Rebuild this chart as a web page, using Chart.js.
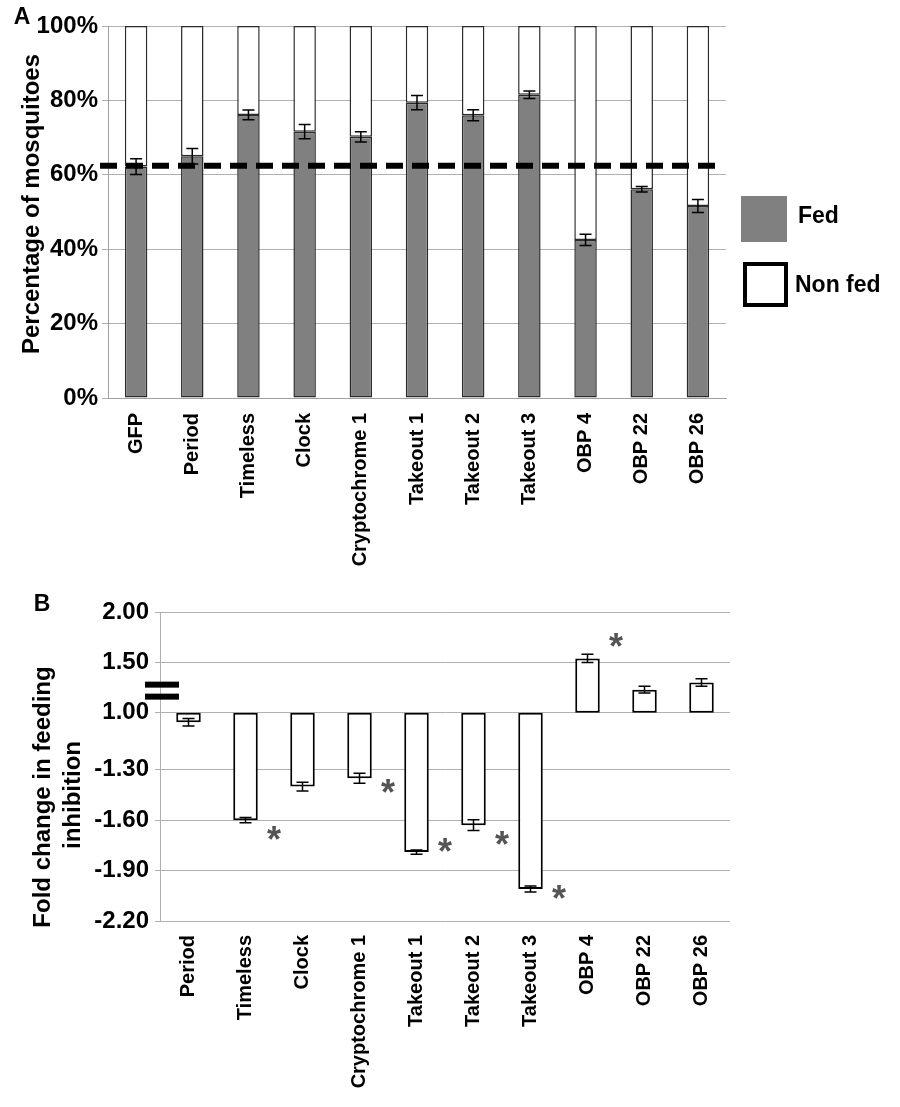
<!DOCTYPE html>
<html>
<head>
<meta charset="utf-8">
<script src="https://cdn.jsdelivr.net/npm/chart.js@4.4.0/dist/chart.umd.min.js"></script>
<style>
  body { margin: 0; background: #fff; }
  #wrapA { position: absolute; left: 0; top: 0; width: 900px; height: 580px; }
  #wrapB { position: absolute; left: 0; top: 580px; width: 900px; height: 527px; }
</style>
</head>
<body>
<div id="wrapA"><canvas id="chartA"></canvas></div>
<div id="wrapB"><canvas id="chartB"></canvas></div>
<script>
// ================= DATA: PANEL A =================
const genesA = ["GFP", "Period", "Timeless", "Clock", "Cryptochrome 1", "Takeout 1",
                "Takeout 2", "Takeout 3", "OBP 4", "OBP 22", "OBP 26"];
const fedPct    = [62.2, 65.0, 76.1, 71.6, 70.2, 79.4, 76.0, 81.5, 42.5, 56.1, 51.6];
const nonFedPct = [37.8, 35.0, 23.9, 28.4, 29.8, 20.6, 24.0, 18.5, 57.5, 43.9, 48.4];
const fedErr    = [2.1, 2.1, 1.3, 1.9, 1.4, 1.9, 1.5, 1.0, 1.5, 0.75, 1.75];
const gfpLevel  = 62.4;
const ticksA    = [0, 20, 40, 60, 80, 100];

// ================= DATA: PANEL B =================
const genesB = ["Period", "Timeless", "Clock", "Cryptochrome 1", "Takeout 1",
                "Takeout 2", "Takeout 3", "OBP 4", "OBP 22", "OBP 26"];
const foldChange = [-1.05, -1.60, -1.40, -1.35, -1.79, -1.63, -2.01, 1.54, 1.23, 1.30];
const foldErr    = [0.02, 0.016, 0.026, 0.03, 0.012, 0.032, 0.018, 0.04, 0.033, 0.037];
const starGenes  = ["Timeless", "Cryptochrome 1", "Takeout 1", "Takeout 2", "Takeout 3", "OBP 4"];
const starLevel  = [-1.70, -1.42, -1.77, -1.73, -2.05, 1.68];
const foldTicks  = [2.00, 1.50, 1.00, -1.30, -1.60, -1.90, -2.20];
const breakLevel = 1.22;

// broken axis: slot of each fold tick on the linear scale (gap between 1.00 and -1.30 is a bit wider)
const tickSlots = [6.13, 5.13, 4.13, 3, 2, 1, 0];

const FONT = '"Liberation Sans", Arial, sans-serif';
Chart.defaults.font.family = FONT;
Chart.defaults.color = '#000';

// -1.00 and 1.00 are the same point on a fold-change axis
function foldToSlot(f) {
    const g = f >= 1 ? f : f + 2;
    const gt = foldTicks.map(t => t >= 1 ? t : t + 2);
    for (let i = 0; i < gt.length - 1; i++) {
        if (g <= gt[i] && g >= gt[i + 1]) {
            return tickSlots[i + 1] + (g - gt[i + 1]) / (gt[i] - gt[i + 1]) * (tickSlots[i] - tickSlots[i + 1]);
        }
    }
    return g > gt[0] ? tickSlots[0] : tickSlots[tickSlots.length - 1];
}

function drawErr(ctx, x, top, bot, cap) {
    ctx.beginPath();
    ctx.moveTo(x, top); ctx.lineTo(x, bot);
    ctx.moveTo(x - cap, top); ctx.lineTo(x + cap, top);
    ctx.moveTo(x - cap, bot); ctx.lineTo(x + cap, bot);
    ctx.stroke();
}

// ================= PANEL A EXTRAS =================
const panelAExtras = {
    id: 'panelAExtras',
    afterDatasetsDraw(chart) {
        const ctx = chart.ctx;
        const y = chart.scales.y;
        ctx.save();
        ctx.strokeStyle = '#000';
        ctx.lineWidth = 1.5;
        chart.getDatasetMeta(0).data.forEach((bar, i) => {
            drawErr(ctx, bar.x,
                y.getPixelForValue(fedPct[i] + fedErr[i]),
                y.getPixelForValue(fedPct[i] - fedErr[i]), 6);
        });

        // GFP reference level
        const yl = y.getPixelForValue(gfpLevel);
        ctx.setLineDash([17, 9]);
        ctx.lineWidth = 6;
        ctx.beginPath();
        ctx.moveTo(100, yl);
        ctx.lineTo(722, yl);
        ctx.stroke();
        ctx.restore();
    },
    afterDraw(chart) {
        const ctx = chart.ctx;
        ctx.save();
        ctx.fillStyle = '#000';
        ctx.textAlign = 'center';
        ctx.textBaseline = 'middle';
        ctx.font = 'bold 23px ' + FONT;
        ctx.fillText('A', 22, 18);

        ctx.save();
        ctx.translate(32, 204);
        ctx.rotate(-Math.PI / 2);
        ctx.font = 'bold 24px ' + FONT;
        ctx.fillText('Percentage of mosquitoes', 0, 0);
        ctx.restore();

        // legend
        const ds = chart.data.datasets;
        ctx.fillStyle = ds[0].backgroundColor;
        ctx.fillRect(741, 196, 46, 46);
        ctx.fillStyle = '#fff';
        ctx.fillRect(743, 262, 45, 45);
        ctx.strokeStyle = '#000';
        ctx.lineWidth = 4;
        ctx.strokeRect(745, 264, 41, 41);

        ctx.fillStyle = '#000';
        ctx.textAlign = 'left';
        ctx.font = 'bold 23px ' + FONT;
        ctx.fillText(ds[0].label, 798, 217);
        ctx.fillText(ds[1].label, 795, 286);
        ctx.restore();
    }
};

// ================= PANEL B EXTRAS =================
const panelBExtras = {
    id: 'panelBExtras',
    afterDatasetsDraw(chart) {
        const ctx = chart.ctx;
        const y = chart.scales.y;
        const x = chart.scales.x;
        ctx.save();
        ctx.strokeStyle = '#000';
        ctx.lineWidth = 1.5;
        chart.getDatasetMeta(0).data.forEach((bar, i) => {
            drawErr(ctx, bar.x,
                y.getPixelForValue(foldToSlot(foldChange[i] + foldErr[i])),
                y.getPixelForValue(foldToSlot(foldChange[i] - foldErr[i])), 6);
        });

        // significance stars
        ctx.fillStyle = '#555';
        ctx.textAlign = 'center';
        ctx.textBaseline = 'alphabetic';
        ctx.font = 'bold 36px ' + FONT;
        starGenes.forEach((g, i) => {
            const idx = genesB.indexOf(g);
            const sx = (x.getPixelForValue(idx) + x.getPixelForValue(idx + 1)) / 2;
            const sy = y.getPixelForValue(foldToSlot(starLevel[i]));
            ctx.fillText('*', sx, sy + 15);
        });
        ctx.restore();
    },
    afterDraw(chart) {
        const ctx = chart.ctx;
        const y = chart.scales.y;
        ctx.save();
        // axis break mark
        const by = y.getPixelForValue(foldToSlot(breakLevel));
        ctx.fillStyle = '#000';
        ctx.fillRect(145, by - 9, 34, 6);
        ctx.fillRect(145, by + 3, 34, 6);

        ctx.textAlign = 'center';
        ctx.textBaseline = 'middle';
        ctx.font = 'bold 23px ' + FONT;
        ctx.fillText('B', 42, 25);

        ctx.font = 'bold 24px ' + FONT;
        ctx.save();
        ctx.translate(43, 217);
        ctx.rotate(-Math.PI / 2);
        ctx.fillText('Fold change in feeding', 0, 0);
        ctx.restore();
        ctx.save();
        ctx.translate(73, 215);
        ctx.rotate(-Math.PI / 2);
        ctx.fillText('inhibition', 0, 0);
        ctx.restore();
        ctx.restore();
    }
};

// ================= CHART A =================
new Chart(document.getElementById('chartA'), {
    type: 'bar',
    data: {
        labels: genesA,
        datasets: [{
            label: 'Fed',
            data: fedPct,
            backgroundColor: '#808080',
            borderColor: '#2b2b2b',
            borderWidth: 1.5,
            borderSkipped: false,
            barPercentage: 0.4,
            categoryPercentage: 1
        }, {
            label: 'Non fed',
            data: nonFedPct,
            backgroundColor: '#ffffff',
            borderColor: '#2b2b2b',
            borderWidth: 1.5,
            borderSkipped: false,
            barPercentage: 0.4,
            categoryPercentage: 1
        }]
    },
    options: {
        responsive: true,
        maintainAspectRatio: false,
        animation: false,
        layout: { padding: { top: 26, right: 174, left: 0, bottom: 0 } },
        plugins: { legend: { display: false }, tooltip: { enabled: false } },
        scales: {
            x: {
                stacked: true,
                grid: { display: false },
                border: { display: true, color: '#a0a0a0' },
                ticks: {
                    autoSkip: false, minRotation: 90, maxRotation: 90, padding: 7,
                    font: { size: 20, weight: 'bold' }
                },
                afterFit(s) { s.height = 182; }
            },
            y: {
                stacked: true,
                min: 0, max: 100,
                afterBuildTicks(s) { s.ticks = ticksA.map(v => ({ value: v })); },
                grid: { color: '#b0b0b0', tickLength: 6 },
                border: { color: '#a0a0a0' },
                ticks: {
                    padding: 4,
                    font: { size: 24, weight: 'bold' },
                    callback: v => v + '%'
                },
                afterFit(s) { s.width = 108; }
            }
        }
    },
    plugins: [panelAExtras]
});

// ================= CHART B =================
new Chart(document.getElementById('chartB'), {
    type: 'bar',
    data: {
        labels: genesB,
        datasets: [{
            label: 'Fold change',
            data: foldChange.map(f => [foldToSlot(1), foldToSlot(f)]),
            backgroundColor: '#ffffff',
            borderColor: '#000',
            borderWidth: 2,
            borderSkipped: false,
            barPercentage: 0.43,
            categoryPercentage: 1
        }]
    },
    options: {
        responsive: true,
        maintainAspectRatio: false,
        animation: false,
        layout: { padding: { top: 32, right: 170, left: 0, bottom: 0 } },
        plugins: { legend: { display: false }, tooltip: { enabled: false } },
        scales: {
            x: {
                grid: { display: false },
                border: { display: false },
                ticks: {
                    autoSkip: false, minRotation: 90, maxRotation: 90, padding: 6,
                    font: { size: 20, weight: 'bold' }
                },
                afterFit(s) { s.height = 186; }
            },
            y: {
                min: 0, max: tickSlots[0],
                afterBuildTicks(s) { s.ticks = tickSlots.map(v => ({ value: v })); },
                grid: { color: '#b0b0b0', tickLength: 5 },
                border: { color: '#b0b0b0' },
                ticks: {
                    padding: 6,
                    font: { size: 24, weight: 'bold' },
                    callback: v => foldTicks[tickSlots.indexOf(v)].toFixed(2)
                },
                afterFit(s) { s.width = 160; }
            }
        }
    },
    plugins: [panelBExtras]
});
</script>
</body>
</html>
